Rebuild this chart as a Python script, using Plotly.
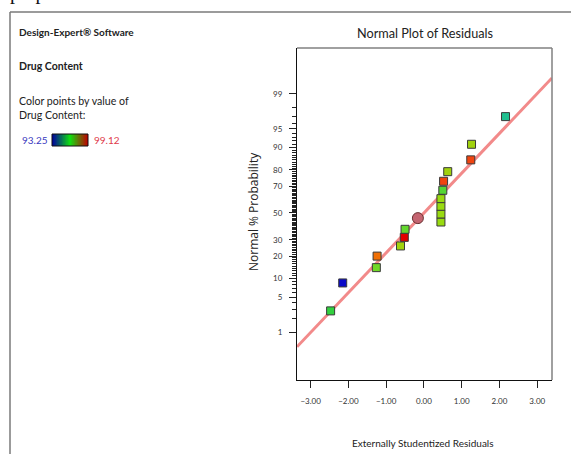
import plotly.graph_objects as go
from statistics import NormalDist

nd = NormalDist()

# ---- data ----
residuals = [-2.47, -2.15, -1.26, -1.24, -0.62, -0.52, -0.50,
             0.45, 0.45, 0.45, 0.45, 0.50, 0.52, 0.63, 1.24, 1.26, 2.16]
probabilities = [2.8, 8.6, 14.3, 20.0, 26.0, 31.7, 37.5,
                 43.0, 49.2, 55.2, 61.0, 67.1, 73.2, 79.0, 85.0, 91.0, 97.0]
drug_content = [96.2, 93.25, 96.6, 98.1, 97.0, 99.12, 96.5,
                96.9, 96.9, 96.9, 96.9, 96.4, 98.5, 97.0, 98.5, 97.0, 95.6]
highlight_residual = [-0.16]
highlight_probability = [46.0]
content_min, content_max = 93.25, 99.12
line_mean, line_sd = 0.0, 1.286
x_ticks = [-3, -2, -1, 0, 1, 2, 3]
prob_major = [1, 5, 10, 20, 30, 50, 70, 80, 90, 95, 99]
prob_minor = list(range(1, 100))

W, H = 571, 454
def fx(px): return px / W
def fy(py): return 1 - py / H

FONT = "Lato, Open Sans, sans-serif"

point_scale = [[0.0, '#0a0ac8'], [0.25, '#0a90c0'], [0.4, '#20c090'], [0.5, '#30d040'],
               [0.55, '#60d830'], [0.62, '#98dc10'], [0.8, '#f08000'], [0.9, '#f04010'],
               [1.0, '#e00000']]
legend_scale = [[0.0, '#0000a0'], [0.5, '#10e010'], [1.0, '#c00000']]

x_lo, x_hi = -3.36, 3.39
line_x = [x_lo, x_hi]
line_z = [(v - line_mean) / line_sd for v in line_x]

fig = go.Figure()
fig.add_trace(go.Scatter(x=line_x, y=line_z, mode='lines',
                         line=dict(color='#f28a8a', width=3), hoverinfo='skip'))
fig.add_trace(go.Scatter(
    x=residuals, y=[nd.inv_cdf(p / 100) for p in probabilities], mode='markers',
    marker=dict(symbol='square', size=8, color=drug_content, colorscale=point_scale,
                cmin=content_min, cmax=content_max,
                line=dict(color='#3a3a3a', width=1))))
fig.add_trace(go.Scatter(
    x=highlight_residual, y=[nd.inv_cdf(p / 100) for p in highlight_probability],
    mode='markers', marker=dict(symbol='circle', size=11, color='#c46470',
                                line=dict(color='#6a3030', width=1))))

# legend colour bar
bar_vals = [content_min + (content_max - content_min) * i / 59 for i in range(60)]
fig.add_trace(go.Heatmap(z=[bar_vals], colorscale=legend_scale, showscale=False,
                         xaxis='x2', yaxis='y2', hoverinfo='skip'))

fig.update_layout(
    width=W, height=H, margin=dict(l=0, r=0, t=0, b=0),
    paper_bgcolor='white', plot_bgcolor='white', showlegend=False,
    font=dict(family=FONT, color='#222'),
    xaxis=dict(domain=[fx(297), fx(552)], range=[x_lo, x_hi], tickvals=x_ticks,
               tickformat='.2f', ticks='outside', ticklen=7, tickcolor='#222',
               showline=True, linecolor='#111', linewidth=1, showgrid=False,
               zeroline=False, tickfont=dict(size=8, color='#333'),
               ticklabelstandoff=6, anchor='y'),
    yaxis=dict(domain=[fy(380), fy(48)], range=[-3.26, 3.22],
               tickvals=[nd.inv_cdf(p / 100) for p in prob_major],
               ticktext=[str(p) for p in prob_major], ticks='outside', ticklen=7,
               tickcolor='#222', showline=True, linecolor='#111', linewidth=1,
               showgrid=False, zeroline=False, tickfont=dict(size=8, color='#333'),
               ticklabelstandoff=5,
               minor=dict(tickvals=[nd.inv_cdf(p / 100) for p in prob_minor],
                          ticks='outside', ticklen=4, tickcolor='#222', showgrid=False),
               anchor='x'),
    xaxis2=dict(domain=[fx(52), fx(88)], visible=False, anchor='y2'),
    yaxis2=dict(domain=[fy(146), fy(134)], visible=False, anchor='x2'),
)

shapes = [
    dict(type='line', xref='paper', yref='paper', x0=fx(10), x1=1.0, y0=fy(12), y1=fy(12),
         line=dict(color='#7a7a7a', width=1.5)),
    dict(type='line', xref='paper', yref='paper', x0=fx(10), x1=fx(10), y0=fy(12), y1=0,
         line=dict(color='#7a7a7a', width=1.5)),
    dict(type='line', xref='paper', yref='paper', x0=fx(297), x1=fx(552), y0=fy(48), y1=fy(48),
         line=dict(color='#808080', width=1.5)),
    dict(type='line', xref='paper', yref='paper', x0=fx(552), x1=fx(552), y0=fy(48), y1=fy(380),
         line=dict(color='#808080', width=1.5)),
    dict(type='rect', xref='paper', yref='paper', x0=fx(52), x1=fx(88), y0=fy(146), y1=fy(134),
         line=dict(color='#111', width=1)),
]
fig.update_layout(shapes=shapes)

def ann(text, px, py, size=11, color='#222', anchor='left', angle=0, family=FONT):
    fig.add_annotation(text=text, x=fx(px), y=fy(py), xref='paper', yref='paper',
                       xanchor=anchor, yanchor='middle', showarrow=False, textangle=angle,
                       font=dict(size=size, color=color, family=family))

ann('Normal Plot of Residuals', 425, 33, size=12.7, anchor='center')
ann('Externally Studentized Residuals', 423, 443, size=10, anchor='center')
ann('Normal % Probability', 253, 212, size=12, anchor='center', angle=-90,
    family='Open Sans, sans-serif')
ann('<b>Design-Expert® Software</b>', 17, 32, size=10)
ann('<b>Drug Content</b>', 17, 66, size=10.5)
ann('Color points by value of', 17, 101, size=10.6)
ann('Drug Content:', 17, 115, size=10.6)
ann('93.25', 20, 140, size=10, color='#3a3ac0')
ann('99.12', 92, 140, size=10, color='#e03a4a')
fig.add_annotation(text='preparation.', x=fx(8), y=fy(6), xref='paper', yref='paper',
                   xanchor='left', yanchor='bottom', showarrow=False,
                   font=dict(size=20, color='#111', family='Liberation Serif, serif'))

fig.write_html('out.html')
